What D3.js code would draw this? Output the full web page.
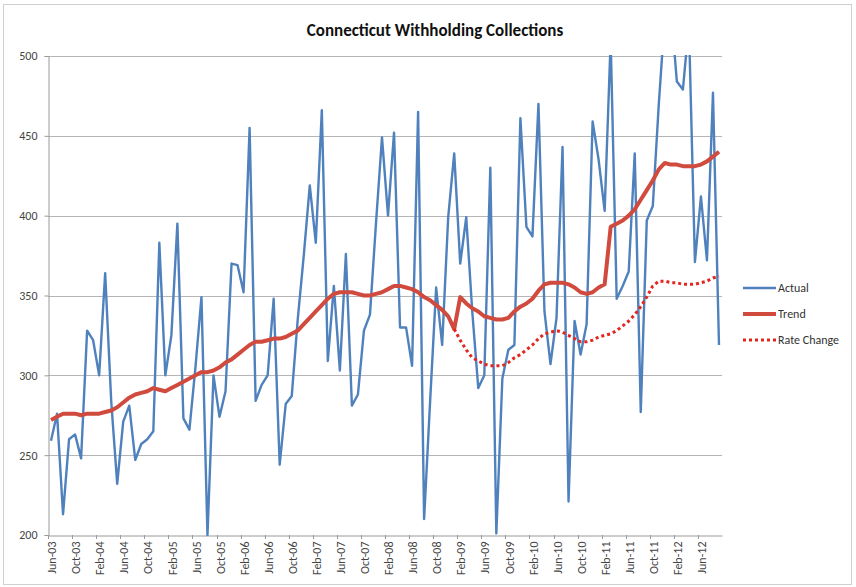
<html lang="en">
  <head>
    <title>Connecticut Withholding Collections</title>
    <script src="https://d3js.org/d3.v7.min.js"></script>
    <style>
      body { margin: 0; background: white; }
      text { font-family: Carlito, Lato, "Open Sans", sans-serif; }
    </style>
  </head>
  <body>
  <script>

  var w = 856;
  var h = 587;
  var plot = {left: 48, right: 722, top: 56, bottom: 535};

  // months Jun-03 .. Sep-12
  var months = d3.timeMonth.range(new Date(2003, 5, 1), new Date(2012, 9, 1));

  var tickLabels = ["Jun-03","Oct-03","Feb-04","Jun-04","Oct-04","Feb-05","Jun-05",
    "Oct-05","Feb-06","Jun-06","Oct-06","Feb-07","Jun-07","Oct-07","Feb-08","Jun-08",
    "Oct-08","Feb-09","Jun-09","Oct-09","Feb-10","Jun-10","Oct-10","Feb-11","Jun-11",
    "Oct-11","Feb-12","Jun-12"];

  var yTicks = [200, 250, 300, 350, 400, 450, 500];

  var actual = [
    259, 276, 213, 260, 263, 248, 328, 322, 300, 364,
    284, 232, 271, 281, 247, 257, 260, 265, 383, 300,
    325, 395, 273, 266, 305, 349, 200, 300, 274, 290,
    370, 369, 352, 455, 284, 294, 300, 348, 244, 282,
    287, 335, 375, 419, 383, 466, 309, 356, 303, 376,
    281, 288, 328, 338, 395, 449, 400, 452, 330, 330,
    306, 465, 210, 284, 355, 319, 399, 439, 370, 399,
    340, 292, 300, 430, 201, 298, 316, 319, 461, 393,
    387, 470, 340, 307, 336, 443, 221, 334, 313, 332,
    459, 435, 403, 510, 348, 356, 365, 439, 277, 397,
    406, 470, 525, 530, 484, 479, 520, 371, 412, 372,
    477, 319];

  var trend = [
    272, 274, 276, 276, 276, 275, 276, 276, 276, 277,
    278, 280, 283, 286, 288, 289, 290, 292, 291, 290,
    292, 294, 296, 298, 300, 302, 302, 303, 305, 308,
    310, 313, 316, 319, 321, 321, 322, 323, 323, 324,
    326, 328, 332, 336, 340, 344, 348, 351, 352, 352,
    352, 351, 350, 350, 351, 352, 354, 356, 356, 355,
    354, 352, 349, 347, 344, 341, 337, 329, 349, 345,
    342, 340, 337, 336, 335, 335, 336, 340, 343, 345,
    348, 353, 357, 358, 358, 358, 357, 355, 352, 351,
    352, 355, 357, 393, 395, 397, 400, 404, 410, 416,
    422, 429, 433, 432, 432, 431, 431, 431, 432, 434,
    437, 440];

  // rate change series starts at month index 67 (Jan-09)
  var rateStart = 67;
  var rateChange = [
    329, 322, 316, 311, 309, 307, 306, 306, 306, 308,
    311, 313, 316, 319, 323, 326, 327, 328, 327, 325,
    323, 321, 321, 322, 324, 325, 326, 328, 331, 334,
    338, 343, 349, 356, 359, 359, 358, 358, 357, 357,
    357, 358, 359, 361, 362];

  var fmt = d3.timeFormat("%b-%y");

  var xScale = d3.scaleBand()
      .domain(months)
      .range([plot.left, plot.right])
      .padding(0);

  var yScale = d3.scaleLinear()
      .domain([200, 500])
      .range([plot.bottom, plot.top]);

  var xc = d => xScale(d) + xScale.bandwidth() / 2;

  var svg = d3.select("body")
    .append("svg")
      .attr("width", w)
      .attr("height", h);

  svg.append("rect")
    .attr("x", 0).attr("y", 0)
    .attr("width", w).attr("height", h)
    .attr("fill", "white");

  // chart border
  svg.append("rect")
    .attr("x", 3.5).attr("y", 4.5)
    .attr("width", 848).attr("height", 580)
    .attr("fill", "none")
    .attr("stroke", "#d0d0d0");

  svg.append("text")
    .attr("x", 435)
    .attr("y", 36)
    .attr("text-anchor", "middle")
    .attr("font-size", 17)
    .attr("font-weight", "bold")
    .attr("fill", "#111")
    .text("Connecticut Withholding Collections");

  svg.append("defs").append("clipPath")
    .attr("id", "clip")
    .append("rect")
      .attr("x", plot.left).attr("y", plot.top - 1)
      .attr("width", plot.right - plot.left)
      .attr("height", plot.bottom - plot.top + 2);

  // gridlines
  svg.append("g")
    .selectAll("line")
    .data(yTicks.filter(d => d > 200))
    .enter().append("line")
      .attr("x1", plot.left).attr("x2", plot.right)
      .attr("y1", d => Math.round(yScale(d)) + 0.5)
      .attr("y2", d => Math.round(yScale(d)) + 0.5)
      .attr("stroke", "#b5b5b5")
      .attr("stroke-width", 1.2);

  // y axis
  var yAxis = d3.axisLeft(yScale)
      .tickValues(yTicks)
      .tickSize(4)
      .tickPadding(7);

  var gy = svg.append("g")
      .attr("transform", `translate(${plot.left + 0.5},0)`)
      .call(yAxis);
  gy.select(".domain").attr("stroke", "#9a9a9a");
  gy.selectAll(".tick line").attr("stroke", "#9a9a9a");
  gy.selectAll(".tick text")
      .attr("font-size", 12)
      .attr("fill", "#444")
      .style("font-family", "Carlito, Lato, sans-serif");

  // x axis
  var xAxis = d3.axisBottom(xScale)
      .tickValues(months.filter((d, i) => i % 4 == 0))
      .tickFormat(fmt)
      .tickSize(0);

  var gx = svg.append("g")
      .attr("transform", `translate(0,${plot.bottom + 0.5})`)
      .call(xAxis);
  gx.select(".domain").attr("stroke", "#9a9a9a");
  gx.selectAll(".tick text")
      .attr("font-size", 12)
      .attr("fill", "#444")
      .style("font-family", "Carlito, Lato, sans-serif")
      .attr("text-anchor", "end")
      .attr("transform", "rotate(-90)")
      .attr("x", -6)
      .attr("y", 1)
      .attr("dy", "0.35em")
      .text((d, i) => tickLabels[i]);

  // tick marks between categories, every 4 months
  svg.append("g")
    .selectAll("line")
    .data(months.filter((d, i) => i % 4 == 0))
    .enter().append("line")
      .attr("x1", d => Math.round(xScale(d)) + 0.5)
      .attr("x2", d => Math.round(xScale(d)) + 0.5)
      .attr("y1", plot.bottom)
      .attr("y2", plot.bottom + 4)
      .attr("stroke", "#9a9a9a");

  var lines = svg.append("g").attr("clip-path", "url(#clip)");

  var line = d3.line()
      .x(d => xc(d.m))
      .y(d => yScale(d.v));

  lines.append("path")
    .datum(actual.map((v, i) => ({m: months[i], v: v})))
    .attr("d", line)
    .attr("fill", "none")
    .attr("stroke", "#4f81bd")
    .attr("stroke-width", 2.4)
    .attr("stroke-linejoin", "round");

  lines.append("path")
    .datum(trend.map((v, i) => ({m: months[i], v: v})))
    .attr("d", line)
    .attr("fill", "none")
    .attr("stroke", "#d04a3e")
    .attr("stroke-width", 4)
    .attr("stroke-linejoin", "round");

  lines.append("path")
    .datum(rateChange.map((v, i) => ({m: months[i + rateStart], v: v})))
    .attr("d", line)
    .attr("fill", "none")
    .attr("stroke", "#e3261f")
    .attr("stroke-width", 3)
    .attr("stroke-dasharray", "3 3");

  // legend
  var legend = [
    {name: "Actual", color: "#4f81bd", width: 2.4, dash: null},
    {name: "Trend", color: "#d04a3e", width: 4, dash: null},
    {name: "Rate Change", color: "#e3261f", width: 3, dash: "3 3"}
  ];

  var lg = svg.append("g")
    .selectAll("g")
    .data(legend)
    .enter().append("g")
      .attr("transform", (d, i) => `translate(743,${288 + i * 26})`);

  lg.append("line")
    .attr("x1", 0).attr("x2", 33)
    .attr("y1", 0).attr("y2", 0)
    .attr("stroke", d => d.color)
    .attr("stroke-width", d => d.width)
    .attr("stroke-dasharray", d => d.dash);

  lg.append("text")
    .attr("x", 35)
    .attr("y", 0)
    .attr("dy", "0.35em")
    .attr("font-size", 12)
    .attr("fill", "#333")
    .text(d => d.name);

    </script>
  </body>
</html>
